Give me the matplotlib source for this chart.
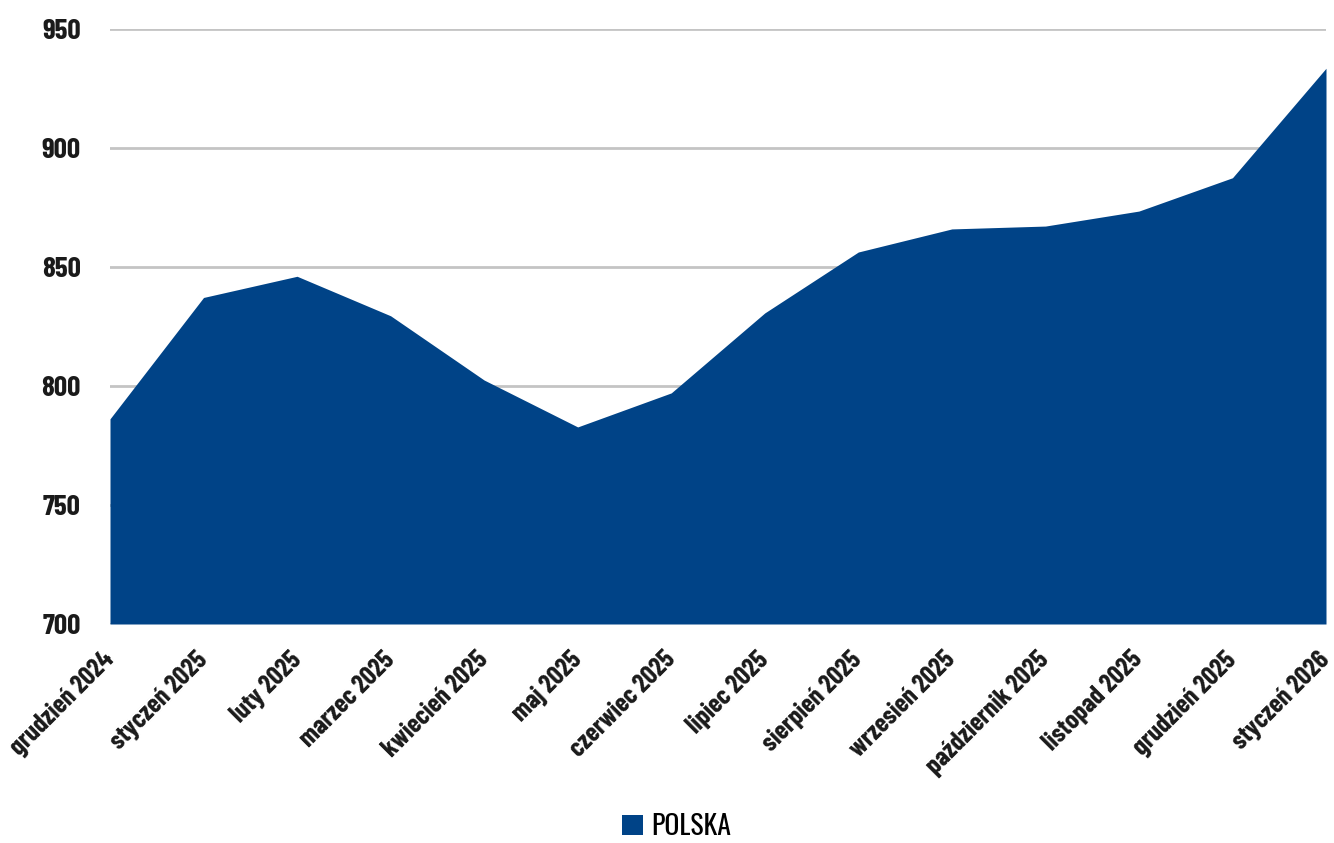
import matplotlib
matplotlib.use("Agg")
import matplotlib.pyplot as plt
from matplotlib.patches import Patch

months = ["grudzień 2024", "styczeń 2025", "luty 2025", "marzec 2025", "kwiecień 2025",
          "maj 2025", "czerwiec 2025", "lipiec 2025", "sierpień 2025", "wrzesień 2025",
          "październik 2025", "listopad 2025", "grudzień 2025", "styczeń 2026"]
polska = [786.2, 837.2, 846.1, 829.5, 802.5, 782.8, 797.1, 830.7, 856.3, 866.0,
          867.2, 873.5, 887.5, 933.5]
yticks = [700, 750, 800, 850, 900, 950]

blue = "#004387"
# bold condensed for the axes, Oswald for the legend
fam_bold = ["Barlow Condensed", "DejaVu Sans"]
fam_leg = ["Oswald", "DejaVu Sans"]

fig = plt.figure(figsize=(13.34, 8.43), dpi=100)
ax = fig.add_axes([110 / 1334, 1 - 624 / 843, (1326 - 110) / 1334, (624 - 29) / 843])

x = list(range(len(months)))
ax.fill_between(x, 700, polska, color=blue, linewidth=0, zorder=3)

ax.set_xlim(0, len(months) - 1)
ax.set_ylim(700, 950)
ax.set_yticks(yticks)
ax.yaxis.grid(True, color="#c4c4c4", linewidth=2, zorder=1)
ax.set_axisbelow(True)
for s in ax.spines.values():
    s.set_visible(False)
ax.tick_params(axis="both", length=0)
ax.tick_params(axis="y", pad=21)
ax.tick_params(axis="x", pad=23)

ax.set_yticklabels([str(v) for v in yticks], family=fam_bold, fontweight="bold",
                   fontsize=21, color="#1a1a1a")
ax.set_xticks(x)
ax.set_xticklabels(months, family=fam_bold, fontweight="bold", fontsize=19,
                   color="#1a1a1a", rotation=45, ha="right", va="center",
                   rotation_mode="anchor")

leg = fig.legend(handles=[Patch(facecolor=blue, edgecolor="none", label="POLSKA")],
                 loc="lower center", bbox_to_anchor=(677 / 1334, -0.026), frameon=False,
                 prop={"family": fam_leg, "size": 20}, handlelength=0.75, handleheight=0.75,
                 handletextpad=0.3)

fig.savefig("out.png", dpi=100)
